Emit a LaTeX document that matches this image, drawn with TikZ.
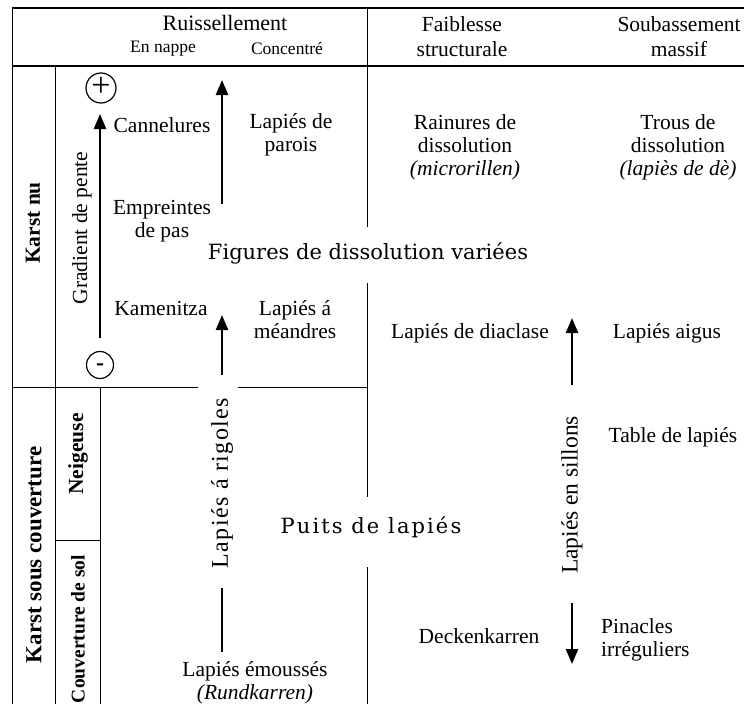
\documentclass[tikz,border=0pt]{standalone}
\usepackage{fontspec}
\setmainfont{Liberation Serif}
\newfontfamily\figfont{DejaVu Serif}
\newfontfamily\puitsfont[LetterSpace=10]{DejaVu Serif}
\newfontfamily\rigolesfont[LetterSpace=6]{Liberation Serif}
\usetikzlibrary{arrows.meta}

\tikzset{
  lbl/.style={font=\fontsize{21.5}{23}\selectfont, align=center, inner sep=0pt},
  hdr/.style={font=\fontsize{21.5}{25}\selectfont, align=center, inner sep=0pt},
  sub/.style={font=\fontsize{17.5}{20}\selectfont, inner sep=0pt},
  side/.style={font=\bfseries\fontsize{21.5}{23}\selectfont, rotate=90, inner sep=0pt},
  big/.style={font=\figfont\fontsize{21}{24}\selectfont, inner sep=0pt},
  sign/.style={draw, circle, line width=1.2pt, inner sep=0pt},
  flow/.style={line width=2.4pt, -{Triangle[width=12pt,length=15pt]}},
  rule/.style={line width=1pt},
}

\begin{document}
\begin{tikzpicture}[x=1pt, y=-1pt]
  \useasboundingbox (0,0) rectangle (744,704);
  % \draw[help lines, gray!50, very thin] (0,0) grid[step=50] (744,704);

  % cadre et colonnes
  \draw[line width=1.6pt] (12,8) -- (744,8);
  \draw[line width=1.6pt] (12,66) -- (744,66);
  \draw[rule] (12,8) -- (12,704);
  \draw[rule] (55,66) -- (55,704);
  \draw[rule] (100,387) -- (100,704);
  \draw[rule] (367,8) -- (367,227);
  \draw[rule] (367,283) -- (367,497);
  \draw[rule] (367,567) -- (367,704);
  \draw[rule] (12,387) -- (198,387);
  \draw[rule] (238,387) -- (367,387);
  \draw[rule] (55,540) -- (100,540);

  % en-tete
  \node[lbl, font=\fontsize{22}{24}\selectfont] (ruis) at (225,23) {Ruissellement};
  \node[sub] (nappe) at (163,49) {En nappe};
  \node[sub] (concentre) at (287,49) {Concentré};
  \node[hdr] (faiblesse) at (462,37) {Faiblesse\\structurale};
  \node[hdr] (soubassement) at (679,37) {Soubassement\\massif};

  % cotes
  \node[side] (karstnu) at (33,223) {Karst nu};
  \node[side, font=\bfseries\fontsize{23}{25}\selectfont] (karstsous) at (34,555) {Karst sous couverture};
  \node[side] (neigeuse) at (78,454) {Neigeuse};
  \node[side, font=\bfseries\fontsize{19.5}{22}\selectfont] (couvsol) at (78,629) {Couverture de sol};

  % gradient de pente
  \node[sign, minimum size=30pt, font=\fontsize{34}{34}\selectfont] (plus) at (101,88) {\smash{\raisebox{-.25em}{+}}};
  \node[sign, minimum size=27pt, font=\bfseries\fontsize{24}{24}\selectfont] (moins) at (100,365) {\smash{\raisebox{-.24em}{-}}};
  \coordinate (gradbas) at (100,338);
  \coordinate (gradhaut) at (100,114);
  \draw[flow] (gradbas) -- (gradhaut);
  \node[lbl, rotate=90] (gradient) at (82,228) {Gradient de pente};

  % ruissellement
  \node[lbl] (cannelures) at (162,125) {Cannelures};
  \node[lbl] (parois) at (291,135) {Lapiés de\\parois};
  \node[lbl] (empreintes) at (162,221) {Empreintes\\de pas};
  \node[lbl] (kamenitza) at (161,308) {Kamenitza};
  \node[lbl] (meandres) at (295,320) {Lapiés á\\méandres};
  \coordinate (concbas) at (222,204);
  \coordinate (conchaut) at (222,80);
  \draw[flow] (concbas) -- (conchaut);
  \coordinate (meanbas) at (222,375);
  \coordinate (meanhaut) at (222,315);
  \draw[flow] (meanbas) -- (meanhaut);
  \node[lbl, rotate=90, font=\rigolesfont\fontsize{24}{26}\selectfont] (rigoles) at (222,483) {Lapiés á rigoles};
  \coordinate (rundhaut) at (222,588);
  \coordinate (rundbas) at (222,652);
  \draw[line width=2.4pt] (rundhaut) -- (rundbas);
  \node[lbl] (emousses) at (255,683) {Lapiés émoussés\\\textit{(Rundkarren)}};

  % figures centrales
  \node[big] (figures) at (368,253) {Figures de dissolution variées};
  \node[big, font=\puitsfont\fontsize{21}{24}\selectfont] (puits) at (371,527) {Puits de lapiés};

  % faiblesse structurale et soubassement
  \node[lbl] (rainures) at (465,147) {Rainures de\\dissolution\\\textit{(microrillen)}};
  \node[lbl] (trous) at (678,147) {Trous de\\dissolution\\\textit{(lapiès de dè)}};
  \node[lbl] (diaclase) at (470,333) {Lapiés de diaclase};
  \node[lbl] (aigus) at (667,333) {Lapiés aigus};
  \coordinate (sillbas) at (572,385);
  \coordinate (sillhaut) at (572,318);
  \draw[flow] (sillbas) -- (sillhaut);
  \node[lbl, rotate=90, font=\fontsize{23.5}{25}\selectfont] (sillons) at (572,495) {Lapiés en sillons};
  \node[lbl] (table) at (673,437) {Table de lapiés};
  \node[lbl] (decken) at (479,636) {Deckenkarren};
  \coordinate (deckhaut) at (572,603);
  \coordinate (deckbas) at (572,664);
  \draw[flow] (deckhaut) -- (deckbas);
  \node[lbl, align=left, anchor=west] (pinacles) at (601,640) {Pinacles\\irréguliers};
\end{tikzpicture}
\end{document}
